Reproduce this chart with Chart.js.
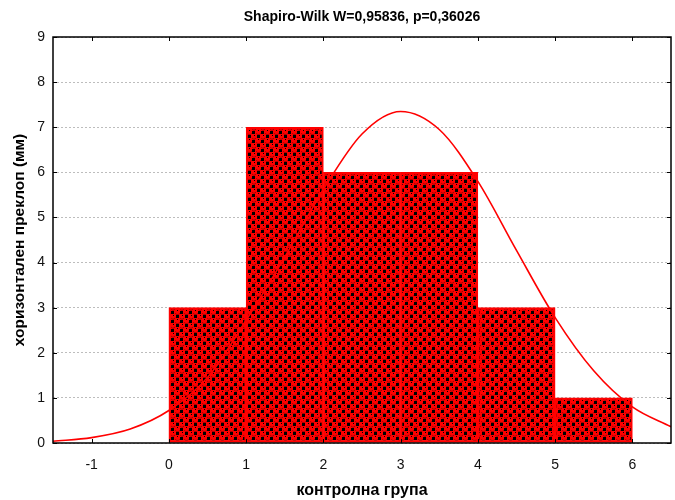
<!DOCTYPE html>
<html>
<head>
<meta charset="utf-8">
<script src="https://cdn.jsdelivr.net/npm/chart.js@4.4.1/dist/chart.umd.min.js"></script>
<style>
  html, body { margin: 0; padding: 0; background: #fff; }
  #wrap { width: 675px; height: 500px; }
</style>
</head>
<body>
<div id="wrap"><canvas id="chart" width="675" height="500"></canvas></div>
<script>
// Histogram bins (lower edges, width 1) and their counts
const binStarts = [0, 1, 2, 3, 4, 5];
const binCounts = [3, 7, 6, 6, 3, 1];

// Fitted normal curve, sampled along the x axis
const curveX = [-1.5, -1, -0.5, 0, 0.5, 1, 1.5, 2, 2.5, 3, 3.5, 4, 4.5, 5, 5.5, 6, 6.5];
const curveY = [0.04, 0.12, 0.31, 0.72, 1.45, 2.72, 4.12, 5.62, 6.85, 7.35, 6.95, 5.8, 4.27, 2.78, 1.6, 0.8, 0.36];

// Tick labels
const xTicks = [-1, 0, 1, 2, 3, 4, 5, 6];
const yTicks = [0, 1, 2, 3, 4, 5, 6, 7, 8, 9];

const titleText = 'Shapiro-Wilk W=0,95836, p=0,36026';
const xTitle = 'контролна група';
const yTitle = 'хоризонтален преклоп (мм)';

// Red/black checkered fill for the bars: red discs alternating with black squares
function makePattern() {
  const c = document.createElement('canvas');
  c.width = 9; c.height = 9;
  const g = c.getContext('2d');
  g.fillStyle = '#ff0000';
  g.fillRect(0, 0, 9, 9);
  g.fillStyle = '#000000';
  g.fillRect(5, 0, 3, 3);
  g.fillRect(0, 5, 3, 3);
  [[2, 2], [6.5, 6.5]].forEach(([cx, cy]) => {
    g.beginPath();
    g.arc(cx, cy, 2.2, 0.1 * Math.PI, 0.9 * Math.PI);
    g.strokeStyle = '#a00000';
    g.lineWidth = 1;
    g.stroke();
    g.fillStyle = '#000';
    g.fillRect(Math.floor(cx), Math.floor(cy) - 2, 1, 1);
  });
  return g.createPattern(c, 'repeat');
}

const barData = binStarts.map((s, i) => ({ x: s + 0.5, y: binCounts[i] }));
const lineData = curveX.map((x, i) => ({ x: x, y: curveY[i] }));

// Frame and inward tick marks on all four sides, plus the chart title
const framePlugin = {
  id: 'frame',
  afterDraw(chart) {
    const { ctx, chartArea: a, scales } = chart;
    ctx.save();
    ctx.strokeStyle = '#000';
    ctx.lineWidth = 1.5;
    ctx.strokeRect(a.left, a.top, a.right - a.left, a.bottom - a.top);
    ctx.lineWidth = 1;
    ctx.beginPath();
    xTicks.forEach(v => {
      const px = Math.round(scales.x.getPixelForValue(v)) + 0.5;
      ctx.moveTo(px, a.bottom); ctx.lineTo(px, a.bottom - 4);
      ctx.moveTo(px, a.top); ctx.lineTo(px, a.top + 4);
    });
    yTicks.forEach(v => {
      const py = Math.round(scales.y.getPixelForValue(v)) + 0.5;
      ctx.moveTo(a.left, py); ctx.lineTo(a.left + 4, py);
      ctx.moveTo(a.right, py); ctx.lineTo(a.right - 4, py);
    });
    ctx.stroke();
    ctx.fillStyle = '#000';
    ctx.font = 'bold 14px "Liberation Sans", Arial, sans-serif';
    ctx.textAlign = 'center';
    ctx.textBaseline = 'middle';
    ctx.fillText(titleText, (a.left + a.right) / 2, 17);
    ctx.restore();
  }
};

new Chart(document.getElementById('chart'), {
  type: 'bar',
  data: {
    datasets: [
      {
        type: 'line',
        data: lineData,
        borderColor: '#ff0000',
        borderWidth: 1.6,
        pointRadius: 0,
        cubicInterpolationMode: 'monotone',
        fill: false,
        order: 0
      },
      {
        type: 'bar',
        data: barData,
        backgroundColor: makePattern(),
        borderColor: '#ff0000',
        borderWidth: 2,
        borderSkipped: false,
        barPercentage: 1,
        categoryPercentage: 1,
        order: 1
      }
    ]
  },
  options: {
    responsive: false,
    animation: false,
    layout: { padding: { top: 37, right: 4, left: 0, bottom: 0 } },
    plugins: { legend: { display: false }, tooltip: { enabled: false }, title: { display: false } },
    scales: {
      x: {
        type: 'linear',
        min: -1.5, max: 6.5,
        offset: false,
        afterBuildTicks: s => { s.ticks = xTicks.map(v => ({ value: v })); },
        afterFit: s => { s.height = 57; },
        grid: { display: false, drawTicks: false },
        border: { display: false },
        ticks: {
          padding: 14,
          color: '#111',
          font: { family: '"Liberation Sans", Arial, sans-serif', size: 14 },
          maxRotation: 0
        },
        title: {
          display: true,
          text: xTitle,
          color: '#000',
          font: { family: '"Liberation Sans", Arial, sans-serif', size: 16, weight: 'bold' },
          padding: { top: 0, bottom: 0 }
        }
      },
      y: {
        min: 0, max: 9,
        afterBuildTicks: s => { s.ticks = yTicks.map(v => ({ value: v })); },
        afterFit: s => { s.width = 53; },
        grid: {
          drawTicks: false,
          color: '#bdbdbd',
          lineWidth: 1
        },
        border: { display: false, dash: [2, 2] },
        ticks: {
          padding: 8,
          color: '#111',
          font: { family: '"Liberation Sans", Arial, sans-serif', size: 14 }
        },
        title: {
          display: true,
          text: yTitle,
          color: '#000',
          font: { family: '"Liberation Sans", Arial, sans-serif', size: 15.5, weight: 'bold' },
          padding: { top: 10, bottom: 0 }
        }
      }
    }
  },
  plugins: [framePlugin]
});
</script>
</body>
</html>
